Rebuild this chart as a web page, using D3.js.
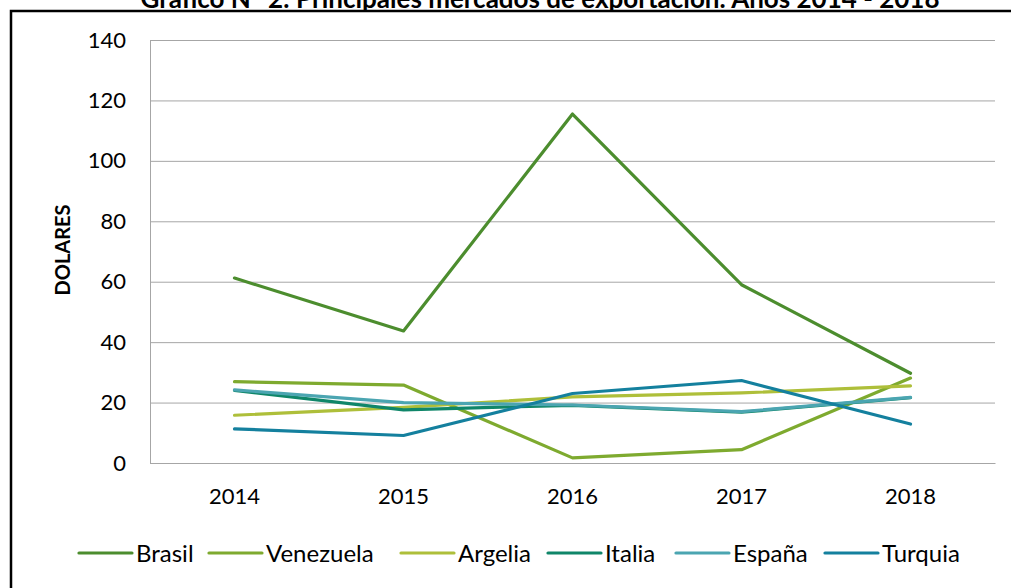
<!DOCTYPE html>
<html><head><meta charset="utf-8">
<script src="https://cdn.jsdelivr.net/npm/d3@7"></script>
<style>body{margin:0;background:#fff;}svg{display:block;font-family:Lato,"Open Sans",sans-serif;}</style>
</head><body>
<svg id="c" width="1011" height="588"></svg>
<script>
const years = ["2014","2015","2016","2017","2018"];
const seriesNames = ["Brasil","Venezuela","Argelia","Italia","España","Turquia"];
const brasil    = [61.2, 43.7, 115.5, 59.0, 29.7];
const venezuela = [26.9, 25.8, 1.7, 4.4, 28.1];
const argelia   = [15.8, 18.4, 21.9, 23.2, 25.5];
const italia    = [24.0, 17.6, 19.1, 16.8, 21.6];
const espana    = [24.2, 20.0, 19.2, 17.0, 21.7];
const turquia   = [11.3, 9.1, 23.0, 27.3, 12.9];
const yTicks = [0,20,40,60,80,100,120,140];
const colors = ["#4c8d2e","#7eaa2f","#aebf3a","#0f8669","#4ba5b1","#14809e"];
const values = [brasil, venezuela, argelia, italia, espana, turquia];

const svg = d3.select("#c");
const L = 150, R = 995, T = 40, B = 463;
const x = d3.scaleBand().domain(years).range([L, R]);
const y = d3.scaleLinear().domain([0,140]).range([B, T]);

// outer border
svg.append("path").attr("d", `M11,600 L11,11 L1020,11`).attr("fill","none").attr("stroke","#000").attr("stroke-width",2.5);

// title (clipped at top, as in the reference)
svg.append("text").attr("x",540).attr("y",8).attr("text-anchor","middle")
  .attr("font-weight","bold").attr("font-size",26).attr("fill","#000")
  .text("Gráfico N° 2: Principales mercados de exportación. Años 2014 - 2018");

// gridlines
const yAxis = d3.axisLeft(y).tickValues(yTicks).tickSize(-(R-L)).tickPadding(24);
const gy = svg.append("g").attr("transform",`translate(${L},0)`).call(yAxis);
gy.select(".domain").attr("stroke","#a6a6a6");
gy.selectAll(".tick line").attr("stroke","#a6a6a6").attr("stroke-width",1);
gy.selectAll(".tick text").attr("font-size",22).attr("fill","#000").attr("font-family","Lato");

const gx = svg.append("g").attr("transform",`translate(0,${B})`).call(d3.axisBottom(x).tickSize(0).tickPadding(25));
gx.select(".domain").attr("stroke","#a6a6a6");
gx.selectAll(".tick text").attr("font-size",22).attr("fill","#000").attr("font-family","Lato");

// y label
svg.append("text").attr("transform","translate(70,250) rotate(-90)").attr("text-anchor","middle")
  .attr("font-weight","bold").attr("font-size",20).text("DOLARES");

// lines
const line = d3.line().x((d,i)=>x(years[i])+x.bandwidth()/2).y(d=>y(d));
values.forEach((v,k)=>{
  svg.append("path").datum(v).attr("d",line).attr("fill","none")
    .attr("stroke",colors[k]).attr("stroke-width",3.2).attr("stroke-linejoin","round").attr("stroke-linecap","round");
});

// legend
const legX = [79, 209, 401, 548, 676, 825];
seriesNames.forEach((n,k)=>{
  const g = svg.append("g").attr("transform",`translate(${legX[k]},553)`);
  g.append("line").attr("x1",0).attr("x2",53).attr("stroke",colors[k]).attr("stroke-width",3.2).attr("stroke-linecap","round");
  g.append("text").attr("x",57).attr("y",8.5).attr("font-size",24).text(n);
});
</script>
</body></html>
